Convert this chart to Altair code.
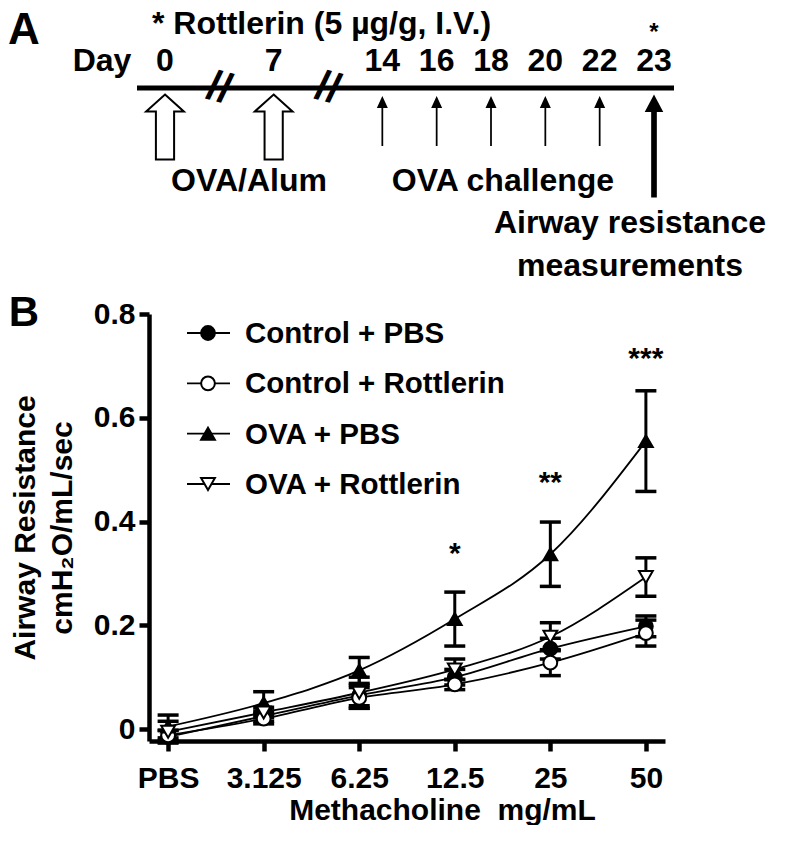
import altair as alt
import pandas as pd

# ---------------- data ----------------
doses = ["PBS", "3.125", "6.25", "12.5", "25", "50"]
series = ["Control + PBS", "Control + Rottlerin", "OVA + PBS", "OVA + Rottlerin"]

ctrl_pbs_mean = [-0.015, 0.025, 0.065, 0.100, 0.155, 0.198]
ctrl_pbs_err = [0.012, 0.010, 0.020, 0.015, 0.020, 0.020]
ctrl_rot_mean = [-0.012, 0.020, 0.060, 0.086, 0.128, 0.185]
ctrl_rot_err = [0.010, 0.010, 0.020, 0.010, 0.025, 0.025]
ova_pbs_mean = [0.005, 0.050, 0.113, 0.212, 0.337, 0.555]
ova_pbs_err = [0.022, 0.022, 0.025, 0.052, 0.062, 0.097]
ova_rot_mean = [-0.005, 0.032, 0.070, 0.115, 0.178, 0.293]
ova_rot_err = [0.020, 0.010, 0.030, 0.020, 0.027, 0.037]

star_doses = ["12.5", "25", "50"]
star_labels = ["*", "**", "***"]
star_levels = [0.353, 0.49, 0.728]
y_ticks = [0, 0.2, 0.4, 0.6, 0.8]

timeline_slots = ["0", "b1", "7", "b2", "14", "16", "18", "20", "22", "23"]
day_labels = ["0", "7", "14", "16", "18", "20", "22", "23"]
break_slots = ["b1", "b2"]
sensitization_days = ["0", "7"]
challenge_days = ["14", "16", "18", "20", "22"]
measure_day = ["23"]

FONT = "Liberation Sans"
FS = 30      # panel B text
FA = 32      # panel A text

# ---------------- tables ----------------
means = [ctrl_pbs_mean, ctrl_rot_mean, ova_pbs_mean, ova_rot_mean]
errs = [ctrl_pbs_err, ctrl_rot_err, ova_pbs_err, ova_rot_err]
rows = []
for s, m, e in zip(series, means, errs):
    for d, mv, ev in zip(doses, m, e):
        rows.append({"series": s, "dose": d, "mean": mv, "lo": mv - ev, "hi": mv + ev})
df = pd.DataFrame(rows)
stars_df = pd.DataFrame({"dose": star_doses, "label": star_labels, "level": star_levels})
leg_df = pd.DataFrame({"series": series})

W, H = 516, 427
YDOM = [-0.023, 0.8]

xB = alt.X("dose:N", sort=doses,
           scale=alt.Scale(type="point", domain=doses, padding=0.2),
           axis=alt.Axis(title="Methacholine\u00a0\u00a0mg/mL", labelAngle=0, labelPadding=12,
                         titleX=293, titleY=69, titleAlign="center", titleBaseline="middle"))
yS = alt.Scale(domain=YDOM, nice=False, zero=False)
yB = alt.Y("mean:Q", scale=yS,
           axis=alt.Axis(values=y_ticks, format="~g", title=["Airway Resistance", "cmH\u2082O/mL/sec"],
                         titleLineHeight=37, titlePadding=16, labelPadding=4))

shape_scale = alt.Scale(domain=series, range=["circle", "circle", "triangle-up", "triangle-down"])
fill_scale = alt.Scale(domain=series, range=["black", "white", "black", "white"])
size_scale = alt.Scale(domain=series, range=[190, 190, 230, 230])

base = alt.Chart(df)
xP = alt.X("dose:N", sort=doses)
lines = base.mark_line(color="black", strokeWidth=1.8, interpolate="monotone").encode(
    x=xB, y=yB, detail="series:N")
bars = base.mark_rule(color="black", strokeWidth=3).encode(
    x=xP, y=alt.Y("lo:Q", scale=yS), y2="hi:Q")
cap_lo = base.mark_tick(color="black", thickness=3.5, size=21, orient="horizontal", opacity=1).encode(
    x=xP, y=alt.Y("lo:Q", scale=yS))
cap_hi = base.mark_tick(color="black", thickness=3.5, size=21, orient="horizontal", opacity=1).encode(
    x=xP, y=alt.Y("hi:Q", scale=yS))
points = base.mark_point(filled=True, stroke="black", strokeWidth=2, opacity=1).encode(
    x=xP, y=alt.Y("mean:Q", scale=yS),
    shape=alt.Shape("series:N", scale=shape_scale, legend=None),
    fill=alt.Fill("series:N", scale=fill_scale, legend=None),
    size=alt.Size("series:N", scale=size_scale, legend=None))
stars = alt.Chart(stars_df).mark_text(font=FONT, fontWeight="bold", fontSize=FS, color="black",
                                      baseline="alphabetic", dy=17).encode(
    x=xP, y=alt.Y("level:Q", scale=yS), text="label:N")

panel_b = alt.layer(lines, bars, cap_lo, cap_hi, points, stars)

# legend drawn as marks
legY = alt.Y("series:N", scale=alt.Scale(type="point", domain=series, range=[19, 170], padding=0), axis=None)
leg_base = alt.Chart(leg_df)
leg_rule = leg_base.mark_rule(color="black", strokeWidth=1.8).encode(
    x=alt.value(38), x2=alt.value(81), y=legY)
leg_pts = leg_base.mark_point(filled=True, stroke="black", strokeWidth=2, opacity=1).encode(
    x=alt.value(59), y=legY,
    shape=alt.Shape("series:N", scale=shape_scale, legend=None),
    fill=alt.Fill("series:N", scale=fill_scale, legend=None),
    size=alt.Size("series:N", scale=size_scale, legend=None))
leg_txt = leg_base.mark_text(font=FONT, fontWeight="bold", fontSize=29.5, color="black",
                             align="left", baseline="middle", dy=1).encode(
    x=alt.value(96), y=legY, text="series:N")
legend = alt.layer(leg_rule, leg_pts, leg_txt)

# ---------------- panel A: timeline ----------------
slotX = alt.X("slot:N", sort=timeline_slots,
              scale=alt.Scale(type="point", domain=timeline_slots, range=[16, 505], padding=0),
              axis=None)
HOLLOW = "M0,-1 L0.58,-0.48 L0.28,-0.48 L0.28,1 L-0.28,1 L-0.28,-0.48 L-0.58,-0.48 Z"
THIN = "M0,-1 L0.22,-0.52 L0.035,-0.52 L0.035,1 L-0.035,1 L-0.035,-0.52 L-0.22,-0.52 Z"
THICK = "M0,-1 L0.18,-0.66 L0.055,-0.66 L0.055,1 L-0.055,1 L-0.055,-0.66 L-0.18,-0.66 Z"

txt = dict(font=FONT, fontWeight="bold", fontSize=FA, color="black")

timeline = alt.Chart(pd.DataFrame({"slot": ["0"]})).mark_rule(color="black", strokeWidth=5).encode(
    x=alt.value(-12), x2=alt.value(525), y=alt.value(-226))
day_txt = alt.Chart(pd.DataFrame({"slot": day_labels})).mark_text(baseline="middle", **txt).encode(
    x=slotX, y=alt.value(-253), text="slot:N")
breaks = alt.Chart(pd.DataFrame({"slot": break_slots, "t": ["//", "//"]})).mark_text(
    baseline="middle", font=FONT, fontWeight="bold", fontSize=42, color="black", angle=15).encode(
    x=slotX, y=alt.value(-226), text="t:N")
hollow = alt.Chart(pd.DataFrame({"slot": sensitization_days})).mark_point(
    shape=HOLLOW, size=4225, filled=True, fill="white", stroke="black", strokeWidth=2, opacity=1).encode(
    x=slotX, y=alt.value(-187))
thin = alt.Chart(pd.DataFrame({"slot": challenge_days})).mark_point(
    shape=THIN, size=2500, filled=True, fill="black", strokeWidth=0, opacity=1).encode(
    x=slotX, y=alt.value(-193))
thick = alt.Chart(pd.DataFrame({"slot": measure_day})).mark_point(
    shape=THICK, size=10609, filled=True, fill="black", strokeWidth=0, opacity=1).encode(
    x=slotX, y=alt.value(-168))
star23 = alt.Chart(pd.DataFrame({"slot": measure_day, "t": ["*"]})).mark_text(
    baseline="middle", font=FONT, fontWeight="bold", fontSize=24, color="black").encode(
    x=slotX, y=alt.value(-281), text="t:N")
panel_a_slots = alt.layer(timeline, day_txt, breaks, hollow, thin, thick, star23)


def label(text, x, y, align="center", size=FA):
    return alt.Chart(pd.DataFrame({"t": [text]})).mark_text(
        font=FONT, fontWeight="bold", fontSize=size, color="black", align=align, baseline="middle").encode(
        x=alt.value(x), y=alt.value(y), text="t:N")


labels = alt.layer(
    label("A", -125, -283, size=44),
    label("B", -125, -1, size=42),
    label("* Rottlerin (5 \u00b5g/g, I.V.)", 3, -290, align="left"),
    label("Day", -47, -253),
    label("OVA/Alum", 100, -133),
    label("OVA challenge", 354, -133),
    label("Airway resistance", 481, -91),
    label("measurements", 481, -48),
)

chart = alt.layer(panel_b, legend, panel_a_slots, labels).resolve_scale(
    x="independent", y="independent"
).properties(width=W, height=H, padding=0, background="white").configure_view(
    strokeWidth=0
).configure_axis(
    domainColor="black", domainWidth=4.5, tickColor="black", tickWidth=4.5, tickSize=10,
    labelFont=FONT, labelFontWeight="bold", labelFontSize=FS, labelColor="black",
    titleFont=FONT, titleFontWeight="bold", titleFontSize=FS, titleColor="black", grid=False
)

chart.save("out.html", embed_options={"renderer": "svg", "actions": False})
